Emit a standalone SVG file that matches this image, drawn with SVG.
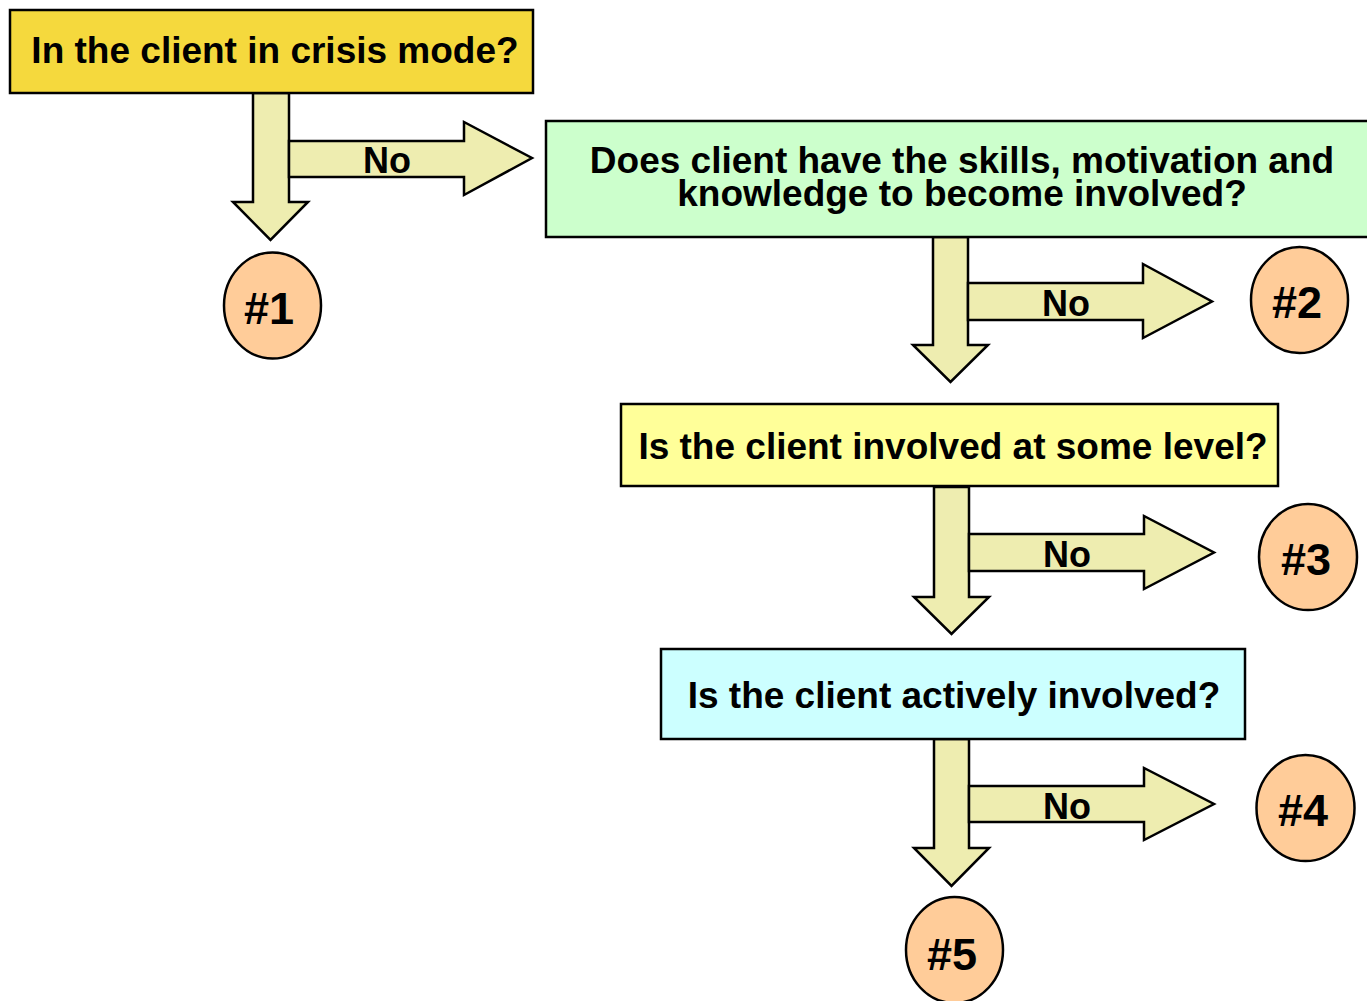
<svg xmlns="http://www.w3.org/2000/svg" width="1367" height="1001" viewBox="0 0 1367 1001">
<style>
.box{stroke:#000;stroke-width:2.5}
.arr{fill:#EEEDB0;stroke:#000;stroke-width:2.5;stroke-linejoin:miter}
.end{fill:#FFCC99;stroke:#000;stroke-width:2.5}
.t{font-family:"Liberation Sans",Arial,sans-serif;font-weight:bold;font-size:37px;fill:#000;text-anchor:middle}
.no{font-family:"Liberation Sans",Arial,sans-serif;font-weight:bold;font-size:36px;fill:#000;text-anchor:middle}
.num{font-family:"Liberation Sans",Arial,sans-serif;font-weight:bold;font-size:45px;fill:#000;text-anchor:middle}
</style>
<rect width="1367" height="1001" fill="#fff"/>
<g id="connectors">
  <g id="c1">
    <polygon class="arr" points="253,93 289,93 289,202 308,202 270.5,240 233,202 253,202"/>
    <polygon class="arr" points="289,141 464,141 464,122 532,158 464,195 464,177 289,177"/>
    <text class="no" x="387" y="173">No</text>
  </g>
  <g id="c2">
    <polygon class="arr" points="933,237 968,237 968,345 988,345 950.5,382 913,345 933,345"/>
    <polygon class="arr" points="968,283 1143,283 1143,264 1212,301.5 1143,338 1143,320 968,320"/>
    <text class="no" x="1066" y="316">No</text>
  </g>
  <g id="c3">
    <polygon class="arr" points="934,487 969,487 969,597 989,597 951.5,634 914,597 934,597"/>
    <polygon class="arr" points="969,534 1144,534 1144,516 1214,552.5 1144,589 1144,571 969,571"/>
    <text class="no" x="1067" y="567">No</text>
  </g>
  <g id="c4">
    <polygon class="arr" points="934,739 969,739 969,848 989,848 951.5,886 914,848 934,848"/>
    <polygon class="arr" points="969,786 1144,786 1144,768 1214,804 1144,840 1144,822 969,822"/>
    <text class="no" x="1067" y="819">No</text>
  </g>
</g>
<g id="q1">
  <rect class="box" x="10" y="10" width="523" height="83" fill="#F5D93D"/>
  <text class="t" x="275" y="63">In the client in crisis mode?</text>
</g>
<g id="q2">
  <rect class="box" x="546" y="121" width="830" height="116" fill="#CCFFCC"/>
  <text class="t" x="962" y="172.5">Does client have the skills, motivation and</text>
  <text class="t" x="962" y="206">knowledge to become involved?</text>
</g>
<g id="q3">
  <rect class="box" x="621" y="404" width="657" height="82" fill="#FFFF99"/>
  <text class="t" x="953" y="459">Is the client involved at some level?</text>
</g>
<g id="q4">
  <rect class="box" x="661" y="649" width="584" height="90" fill="#CCFFFF"/>
  <text class="t" x="954" y="708">Is the client actively involved?</text>
</g>
<g id="n1">
  <ellipse class="end" cx="272.5" cy="305.5" rx="48.5" ry="53"/>
  <text class="num" x="269" y="324">#1</text>
</g>
<g id="n2">
  <ellipse class="end" cx="1299.5" cy="300" rx="48.5" ry="53"/>
  <text class="num" x="1297" y="318">#2</text>
</g>
<g id="n3">
  <ellipse class="end" cx="1308" cy="557" rx="49" ry="53"/>
  <text class="num" x="1306" y="575">#3</text>
</g>
<g id="n4">
  <ellipse class="end" cx="1305.5" cy="808" rx="49" ry="53"/>
  <text class="num" x="1303" y="826">#4</text>
</g>
<g id="n5">
  <ellipse class="end" cx="954.5" cy="950" rx="48.5" ry="53"/>
  <text class="num" x="952" y="970">#5</text>
</g>
</svg>
